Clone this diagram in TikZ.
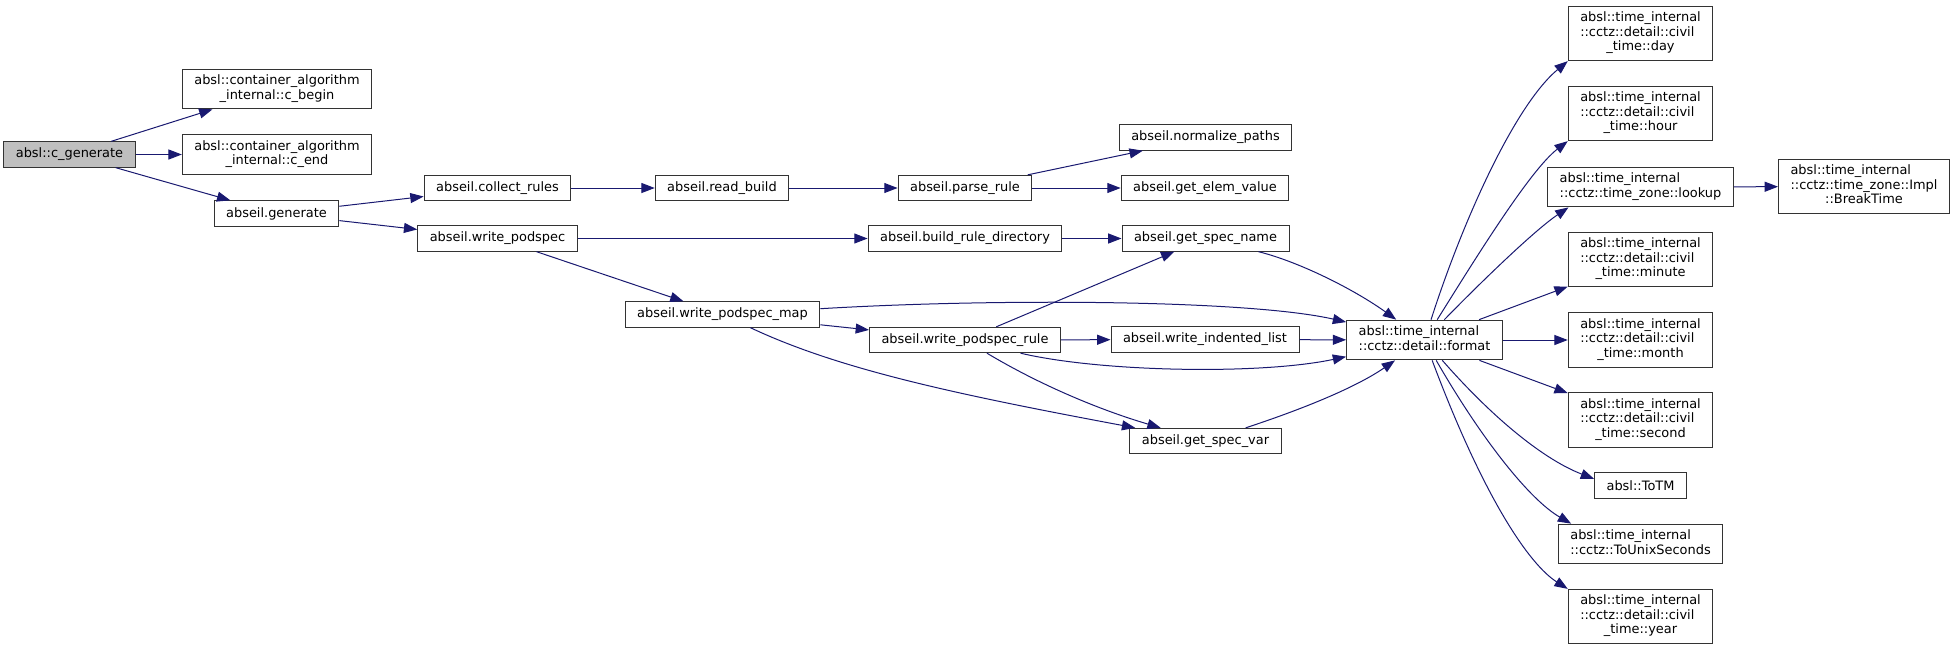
\documentclass[tikz,border=0pt]{standalone}
\usepackage{fontspec}
\setmainfont{DejaVu Sans}
\usetikzlibrary{arrows.meta}
\definecolor{edgeblue}{HTML}{191970}
\definecolor{rootgray}{HTML}{BFBFBF}
\newcommand{\lbltwo}[2]{\begin{tabular}{@{}l@{}}#1\\\multicolumn{1}{@{}c@{}}{#2}\end{tabular}}
\newcommand{\lblthree}[3]{\begin{tabular}{@{}l@{}}#1\\#2\\\multicolumn{1}{@{}c@{}}{#3}\end{tabular}}

\begin{document}
\begin{tikzpicture}[
            x=0.75pt, y=-0.75pt,
            fn/.style={rectangle, draw=black!80, line width=0.75pt, fill=white, inner xsep=9pt, inner ysep=4pt, minimum height=19pt, font=\fontsize{9.7}{10.9}\selectfont},
            root/.style={fn, fill=rootgray},
            call/.style={-{Triangle[length=10pt,width=7.5pt]}, draw=edgeblue, line width=0.75pt}
        ]
            \useasboundingbox (0,0) rectangle (1955,651);

            % Nodes
            \node[root] (cgen) at (69.5,154.5) {absl::c\_generate};
            \node[fn] (cbegin) at (277,89) {\lbltwo{absl::container\_algorithm}{\_internal::c\_begin}};
            \node[fn] (cend) at (277,154.5) {\lbltwo{absl::container\_algorithm}{\_internal::c\_end}};
            \node[fn] (generate) at (276.5,213.5) {abseil.generate};
            \node[fn] (collect) at (497.5,188) {abseil.collect\_rules};
            \node[fn] (readbuild) at (722,188) {abseil.read\_build};
            \node[fn] (parserule) at (965,188) {abseil.parse\_rule};
            \node[fn] (normalize) at (1205.5,137.5) {abseil.normalize\_paths};
            \node[fn] (elemvalue) at (1205,188) {abseil.get\_elem\_value};
            \node[fn] (writepod) at (497.5,238.5) {abseil.write\_podspec};
            \node[fn] (buildrule) at (965,238.5) {abseil.build\_rule\_directory};
            \node[fn] (specname) at (1205.5,238.5) {abseil.get\_spec\_name};
            \node[fn] (podmap) at (722.5,314.5) {abseil.write\_podspec\_map};
            \node[fn] (podrule) at (965,340) {abseil.write\_podspec\_rule};
            \node[fn] (indented) at (1205,339.5) {abseil.write\_indented\_list};
            \node[fn] (specvar) at (1205.5,441) {abseil.get\_spec\_var};
            \node[fn] (format) at (1424.5,340) {\lbltwo{absl::time\_internal}{::cctz::detail::format}};
            \node[fn] (day) at (1640.5,33.5) {\lblthree{absl::time\_internal}{::cctz::detail::civil}{\_time::day}};
            \node[fn] (hour) at (1640.5,113.5) {\lblthree{absl::time\_internal}{::cctz::detail::civil}{\_time::hour}};
            \node[fn] (lookup) at (1640.5,187) {\lbltwo{absl::time\_internal}{::cctz::time\_zone::lookup}};
            \node[fn] (breaktime) at (1864,186.5) {\lblthree{absl::time\_internal}{::cctz::time\_zone::Impl}{::BreakTime}};
            \node[fn] (minute) at (1640.5,259.5) {\lblthree{absl::time\_internal}{::cctz::detail::civil}{\_time::minute}};
            \node[fn] (month) at (1640.5,340) {\lblthree{absl::time\_internal}{::cctz::detail::civil}{\_time::month}};
            \node[fn] (second) at (1640.5,420) {\lblthree{absl::time\_internal}{::cctz::detail::civil}{\_time::second}};
            \node[fn] (totm) at (1640.5,485.5) {absl::ToTM};
            \node[fn] (unixsec) at (1640.5,544) {\lbltwo{absl::time\_internal}{::cctz::ToUnixSeconds}};
            \node[fn] (year) at (1640.5,616.5) {\lblthree{absl::time\_internal}{::cctz::detail::civil}{\_time::year}};

            % Arrows
            \draw[call] (cgen) -- (cbegin);
            \draw[call] (cgen) -- (cend);
            \draw[call] (cgen) -- (generate);
            \draw[call] (generate) -- (collect);
            \draw[call] (generate) -- (writepod);
            \draw[call] (collect) -- (readbuild);
            \draw[call] (readbuild) -- (parserule);
            \draw[call] (parserule) -- (normalize);
            \draw[call] (parserule) -- (elemvalue);
            \draw[call] (writepod) -- (buildrule);
            \draw[call] (writepod) -- (podmap);
            \draw[call] (buildrule) -- (specname);
            \draw[call] (podmap) -- (podrule);
            \draw[call] (podmap) .. controls (1000,298) and (1250,300) .. (format);
            \draw[call] (podmap) .. controls (840,370) and (960,395) .. (specvar);
            \draw[call] (podrule) -- (specname);
            \draw[call] (podrule) -- (indented);
            \draw[call] (podrule) .. controls (1100,372) and (1260,375) .. (format);
            \draw[call] (podrule) .. controls (1040,385) and (1100,410) .. (specvar);
            \draw[call] (indented) -- (format);
            \draw[call] (specname) .. controls (1300,262) and (1355,290) .. (format);
            \draw[call] (specvar) .. controls (1300,410) and (1355,388) .. (format);

            % Arrows out of format
            \draw[call] (format) .. controls (1463,220) and (1515,105) .. (day.south west);
            \draw[call] (format) .. controls (1474.5,260) and (1530,170) .. (hour.south west);
            \draw[call] (format) .. controls (1483,280) and (1535,230) .. ([xshift=16pt]lookup.south west);
            \draw[call] (format) -- (minute);
            \draw[call] (format) -- (month);
            \draw[call] (format) -- (second);
            \draw[call] (format) .. controls (1494.5,420) and (1545,460) .. ([yshift=5pt]totm.west);
            \draw[call] (format) .. controls (1482,440) and (1530,500) .. ([xshift=10pt]unixsec.north west);
            \draw[call] (format) .. controls (1484.5,500) and (1530,565) .. (year.north west);
            \draw[call] (lookup) -- (breaktime);
        \end{tikzpicture}
\end{document}
